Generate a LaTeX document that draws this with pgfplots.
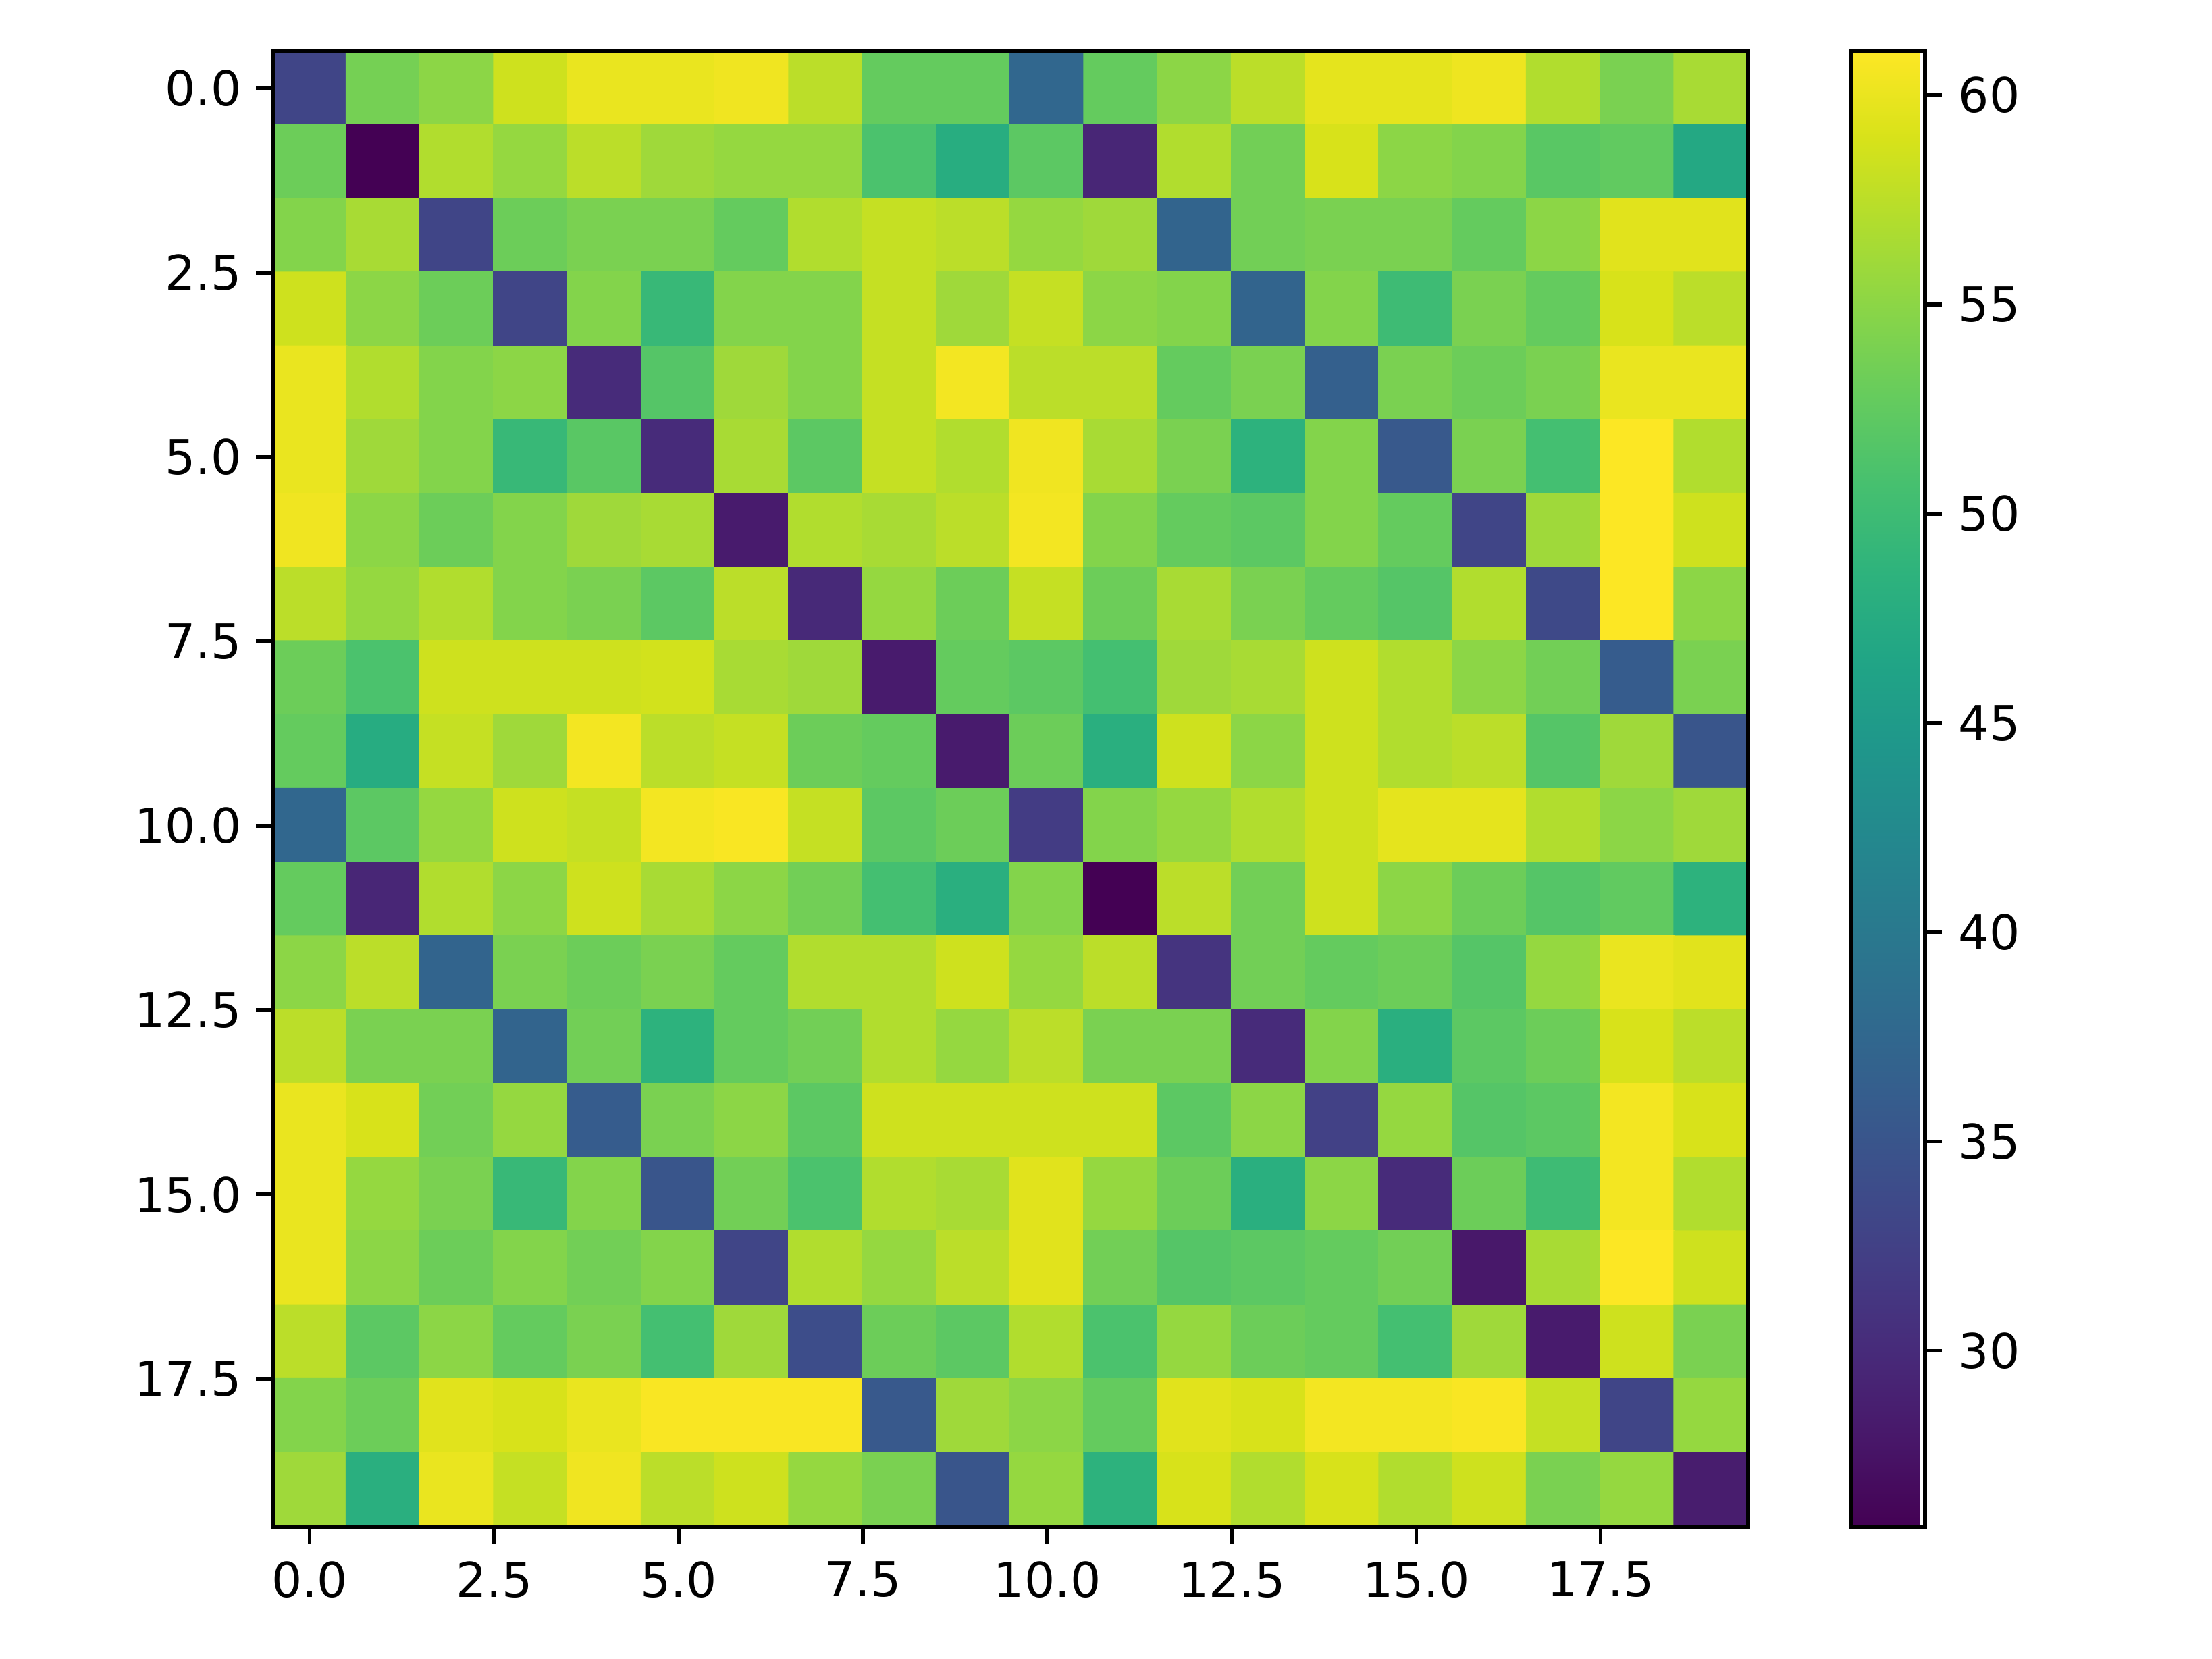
\documentclass[border=0pt]{standalone}
\usepackage{fontspec}
\setmainfont{DejaVu Sans}
\usepackage{pgfplots}
\pgfplotsset{compat=1.18}
\begin{document}
\begin{tikzpicture}[x=0.01in,y=0.01in]
\path[use as bounding box] (-78.92,-38.35) rectangle (561.08,441.65);
\begin{axis}[
    at={(0,0)},anchor=south west,
    scale only axis,
    width=426.87*0.01in,height=426.8*0.01in,
    xmin=-0.5,xmax=19.5,ymin=-0.5,ymax=19.5,
    y dir=reverse,
    axis on top,
    axis line style={line width=0.8bp},
    tick style={line width=0.8bp,black},
    major tick length=3.5bp,
    tick align=outside,
    xtick pos=lower,ytick pos=left,
    xtick={0,2.5,...,17.5},ytick={0,2.5,...,17.5},
    tick label style={font=\fontsize{10bp}{12bp}\selectfont},
    yticklabel style={xshift=0.5pt},
    xticklabel style={yshift=-0.3pt},
    /pgf/number format/assume math mode=true,
    /pgf/number format/fixed,/pgf/number format/fixed zerofill,/pgf/number format/precision=1,
    colormap/viridis,
    point meta min=25.8,point meta max=61.05,
    colorbar,
    colorbar style={
        at={(1.07002,1)},anchor=north west,
        width=21.29*0.01in,
        ytick={30,35,...,60},
        yticklabel pos=right,
        ytick pos=right,
        axis on top,
        axis line style={line width=0.8bp},
        tick style={line width=0.8bp,black},
        major tick length=3.5bp,
        tick align=outside,
        yticklabel style={xshift=0pt},
        /pgf/number format/fixed,/pgf/number format/precision=0,/pgf/number format/fixed zerofill=false,
        /pgf/number format/assume math mode=true,
    },
]
\addplot[matrix plot*,mesh/cols=20,point meta=explicit]
    table[row sep=crcr,header=false,meta index=0,
          x expr={\coordindex-20*floor((\coordindex+0.5)/20)},y expr={floor((\coordindex+0.5)/20)}] {
33\\53.7\\55\\58.5\\60\\60\\60.3\\57.5\\52.7\\52.7\\37.5\\52.7\\55\\57.5\\59.7\\59.7\\60.2\\57\\54\\56.5\\
53.2\\25.8\\57\\55.5\\57.5\\56\\55.5\\55.5\\51\\47.7\\52.2\\29.5\\57\\53.5\\59\\55\\54.5\\52\\52.5\\47\\
54.5\\56.5\\33\\53.2\\54\\54\\52.7\\57\\58\\57.5\\55.5\\56\\37\\53.5\\54\\54\\52.7\\55\\59.5\\59.5\\
58.5\\55\\53.2\\33\\54.5\\49.5\\54.5\\54.5\\58\\56\\58\\55\\54.5\\37\\54.5\\50\\54\\52.7\\59\\57.5\\
60\\57\\54.5\\55\\30\\51.7\\56\\54.5\\58\\60.5\\57.5\\57.5\\52.7\\54\\36.5\\54\\53.2\\54\\60\\60\\
60\\56\\54.5\\49.5\\52\\30\\56.5\\52.2\\58\\57\\60.3\\56.5\\54\\48.5\\54.5\\35.5\\54\\50.5\\61\\57\\
60.3\\55\\53.2\\54.5\\56\\56.5\\28.3\\57\\56.5\\57.5\\60.5\\54.5\\52.7\\52.2\\54.5\\52.7\\33\\56\\61\\58.5\\
57.5\\55.5\\57\\54.5\\54\\52.2\\57.5\\29.8\\55.5\\53.2\\58\\53.2\\56.5\\54\\52.7\\51.7\\57\\33.5\\61\\55\\
53.2\\51\\58.5\\58.5\\58.5\\58.7\\56.5\\56\\28.3\\52.7\\52.2\\50.5\\56\\56.5\\58.5\\57\\55\\53.5\\36\\54\\
52.7\\47.5\\58\\56\\60.5\\57.5\\58\\53.2\\52.7\\28.3\\53.2\\48\\58.5\\55\\58.5\\57\\57.5\\51.7\\56\\35\\
37.5\\52.2\\55.5\\58.5\\58\\60.5\\60.8\\58\\52.2\\53.2\\32\\54.5\\55.5\\57\\58.5\\59.7\\59.7\\57\\55\\56\\
52.7\\29.5\\57\\55\\58.5\\56.5\\55\\53.5\\50.5\\48\\54.5\\25.8\\57.5\\53.5\\58.5\\55\\53.2\\51.7\\52.5\\48.5\\
55\\57.5\\37\\54\\53.2\\54\\52.7\\57\\57\\58.5\\55.5\\57.5\\31\\53.5\\52.7\\53.2\\51.7\\55.5\\60\\59.5\\
57.5\\54\\54\\37\\53.5\\48.5\\52.7\\53.5\\57\\55.5\\57.5\\54\\54\\30\\54.5\\48\\52.2\\53.2\\59\\57.5\\
60\\59\\53.5\\55.5\\36\\54\\55\\52.2\\58.5\\58.5\\58.5\\58.5\\52.2\\55\\32.5\\55.5\\51.7\\52.2\\60.5\\59\\
60\\55.5\\54\\49.5\\54.5\\35\\53.5\\51\\57\\56.5\\59.5\\55.5\\53.2\\48\\55\\30\\53.2\\50\\60.5\\57\\
60\\55\\53.2\\54.5\\53.5\\54.5\\33\\57\\55.5\\57.5\\59.5\\53.5\\51.7\\52.2\\52.7\\53.5\\28\\56.5\\61\\58.5\\
57.5\\52.2\\55\\52.7\\54\\50.5\\56\\34\\53.2\\52.2\\57\\51\\55.5\\53.2\\52.7\\50.5\\56\\28.3\\58.5\\54\\
54.5\\53.2\\59.5\\59\\60\\60.8\\60.8\\60.8\\35.5\\56\\55\\52.7\\59.5\\59\\60.5\\60.5\\60.8\\58\\33\\55.5\\
56\\48\\60\\58\\60.3\\57.5\\58.5\\55.5\\54\\35\\55.5\\48.5\\59\\57\\59\\57\\58.5\\54\\55.5\\28.5\\
};
\end{axis}
\end{tikzpicture}
\end{document}
